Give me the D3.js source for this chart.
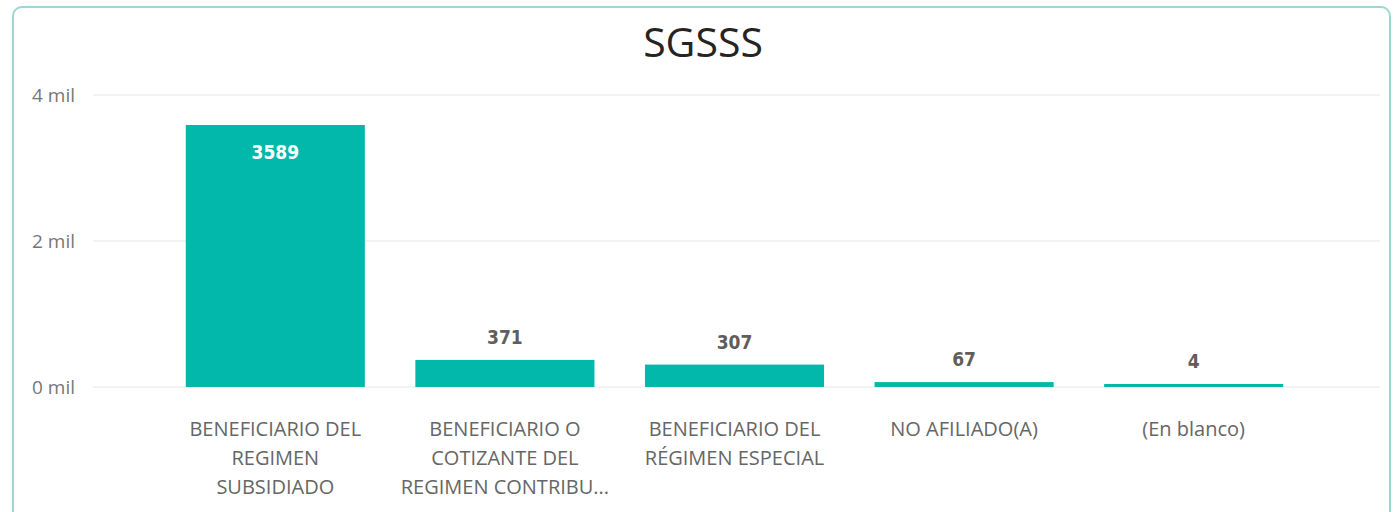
<!DOCTYPE html>
<html><head><meta charset="utf-8">
<script src="https://cdn.jsdelivr.net/npm/d3@7"></script>
<style>
html,body{margin:0;padding:0;background:#fff;}
svg{display:block;}
</style></head>
<body>
<svg id="chart" width="1397" height="512"></svg>
<script>
const categories = ["BENEFICIARIO DEL REGIMEN SUBSIDIADO","BENEFICIARIO O COTIZANTE DEL REGIMEN CONTRIBUTIVO","BENEFICIARIO DEL RÉGIMEN ESPECIAL","NO AFILIADO(A)","(En blanco)"];
const labelLines = [["BENEFICIARIO DEL","REGIMEN","SUBSIDIADO"],["BENEFICIARIO O","COTIZANTE DEL","REGIMEN CONTRIBU..."],["BENEFICIARIO DEL","RÉGIMEN ESPECIAL"],["NO AFILIADO(A)"],["(En blanco)"]];
const values = [3589, 371, 307, 67, 4];
const yTicks = [0, 2000, 4000];
const yTickLabels = ["0 mil","2 mil","4 mil"];
const title = "SGSSS";

const svg = d3.select("#chart");
// card border
svg.append("rect").attr("x",13).attr("y",7).attr("width",1377).attr("height",520)
  .attr("rx",9).attr("fill","#fff").attr("stroke","#9ad8cf").attr("stroke-width",2);

svg.append("text").attr("x",703).attr("y",57).attr("text-anchor","middle")
  .attr("font-family","'Open Sans', sans-serif").attr("font-size",41).attr("fill","#252423").text(title);

const y = d3.scaleLinear().domain([0,4000]).range([387,95]);
const x = d3.scaleBand().domain(categories).range([160.5,1308.5]).paddingInner(0.22).paddingOuter(0.11);

// gridlines
svg.append("g").selectAll("line").data(yTicks).join("line")
  .attr("x1",93).attr("x2",1380).attr("y1",d=>y(d)).attr("y2",d=>y(d))
  .attr("stroke","#e8e8e8").attr("stroke-width",1.2);
svg.append("g").selectAll("text").data(yTicks).join("text")
  .attr("x",75).attr("y",d=>y(d)).attr("dy","0.35em").attr("text-anchor","end")
  .attr("font-family","'Open Sans', sans-serif").attr("font-size",19).attr("fill","#777")
  .text((d,i)=>yTickLabels[i]);

const barTop = d => Math.min(y(d), y(0)-3);
svg.append("g").selectAll("rect").data(values).join("rect")
  .attr("x",(d,i)=>x(categories[i])).attr("width",x.bandwidth())
  .attr("y",d=>barTop(d)).attr("height",d=>y(0)-barTop(d))
  .attr("fill","#01B8AA");

svg.append("g").selectAll("text").data(values).join("text")
  .attr("x",(d,i)=>x(categories[i])+x.bandwidth()/2)
  .attr("y",(d,i)=> i===0 ? barTop(d)+34 : barTop(d)-16)
  .attr("text-anchor","middle")
  .attr("font-family","'DejaVu Sans Condensed', 'DejaVu Sans', sans-serif").attr("font-weight","bold")
  .attr("font-size",19).attr("fill",(d,i)=> i===0 ? "#fff" : "#605e5c")
  .text(d=>d);

const xl = svg.append("g").selectAll("text").data(labelLines).join("text")
  .attr("text-anchor","middle")
  .attr("font-family","'Open Sans', sans-serif").attr("font-size",20).attr("fill","#666");
xl.each(function(lines,i){
  const t = d3.select(this);
  lines.forEach((l,j)=>{
    t.append("tspan").attr("x",x(categories[i])+x.bandwidth()/2).attr("y",436+j*29).text(l);
  });
});
</script>
</body></html>
